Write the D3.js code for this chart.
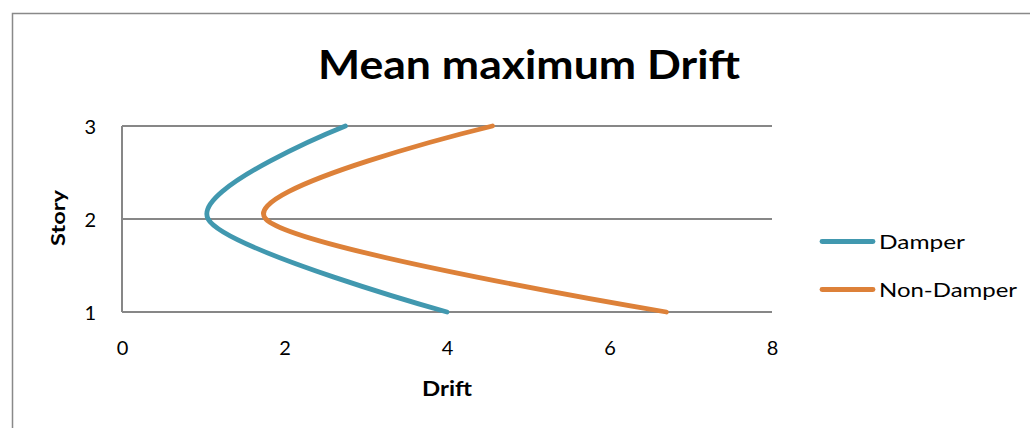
<!DOCTYPE html>
<html><head><meta charset="utf-8">
<script src="https://cdn.jsdelivr.net/npm/d3@7"></script>
<style>body{margin:0;background:#fff}svg{display:block}text{font-family:Lato,"Open Sans",sans-serif;fill:#000}</style>
</head><body><svg id="c" width="1030" height="428"></svg>
<script>
const stories = [1, 2, 3];
const damper = [4.0, 1.06, 2.75];
const nonDamper = [6.7, 1.77, 4.56];
const xTicks = [0, 2, 4, 6, 8];
const yTicks = [1, 2, 3];
const seriesNames = ["Damper", "Non-Damper"];
const colors = ["#4198AF", "#DD8139"];

const svg = d3.select("#c");
svg.append("rect").attr("x",12.5).attr("y",13.5).attr("width",1040).attr("height",440)
  .attr("fill","none").attr("stroke","#898989").attr("stroke-width",1.5);

const x = d3.scaleLinear().domain([0,8]).range([122,772]);
const y = d3.scaleLinear().domain([1,3]).range([312,126]);

// gridlines
svg.append("g").selectAll("line").data(yTicks).join("line")
  .attr("x1",x(0)).attr("x2",x(8)).attr("y1",d=>y(d)).attr("y2",d=>y(d))
  .attr("stroke","#878787").attr("stroke-width",2);
svg.append("line").attr("x1",x(0)).attr("x2",x(0)).attr("y1",y(3)).attr("y2",y(1))
  .attr("stroke","#878787").attr("stroke-width",2);

const yAxis = d3.axisLeft(y).tickValues(yTicks).tickSize(0).tickPadding(0).tickFormat(d3.format("d"));
const gy = svg.append("g").attr("transform","translate(96,0)").call(yAxis);
gy.select(".domain").remove();
gy.selectAll("text").attr("font-size",20).attr("font-family","Lato").attr("fill","#000").attr("dy","0.36em");

const xAxis = d3.axisBottom(x).tickValues(xTicks).tickSize(0).tickPadding(0).tickFormat(d3.format("d"));
const gx = svg.append("g").attr("transform","translate(0,348)").call(xAxis);
gx.select(".domain").remove();
gx.selectAll("text").attr("font-size",20).attr("font-family","Lato").attr("fill","#000").attr("dy","0.36em");

// lines
const line = d3.line().x(d=>x(d[0])).y(d=>y(d[1])).curve(d3.curveCatmullRom.alpha(0));
[damper, nonDamper].forEach((s,i)=>{
  svg.append("path").datum(s.map((v,j)=>[v,stories[j]]))
    .attr("d",line).attr("fill","none").attr("stroke",colors[i])
    .attr("stroke-width",4.8).attr("stroke-linecap","round");
});

// title
svg.append("text").attr("x",529).attr("y",79).attr("text-anchor","middle")
  .attr("font-size",40).attr("font-weight","bold").attr("textLength",422).attr("lengthAdjust","spacingAndGlyphs")
  .text("Mean maximum Drift");
svg.append("text").attr("transform","translate(65,218) rotate(-90)").attr("text-anchor","middle")
  .attr("font-size",19).attr("font-weight","bold").attr("textLength",56).attr("lengthAdjust","spacingAndGlyphs").text("Story");
svg.append("text").attr("x",447).attr("y",396).attr("text-anchor","middle")
  .attr("font-size",20).attr("font-weight","bold").attr("textLength",50).attr("lengthAdjust","spacingAndGlyphs").text("Drift");

// legend
const legendWidths = [86, 138];
const lg = svg.append("g");
seriesNames.forEach((n,i)=>{
  const ly = 241.5 + i*48;
  lg.append("line").attr("x1",822).attr("x2",873).attr("y1",ly).attr("y2",ly)
    .attr("stroke",colors[i]).attr("stroke-width",4.8).attr("stroke-linecap","round");
  lg.append("text").attr("x",879).attr("y",ly).attr("dy","0.36em").attr("font-size",20)
    .attr("textLength",legendWidths[i]).attr("lengthAdjust","spacingAndGlyphs").text(n);
});
</script></body></html>
